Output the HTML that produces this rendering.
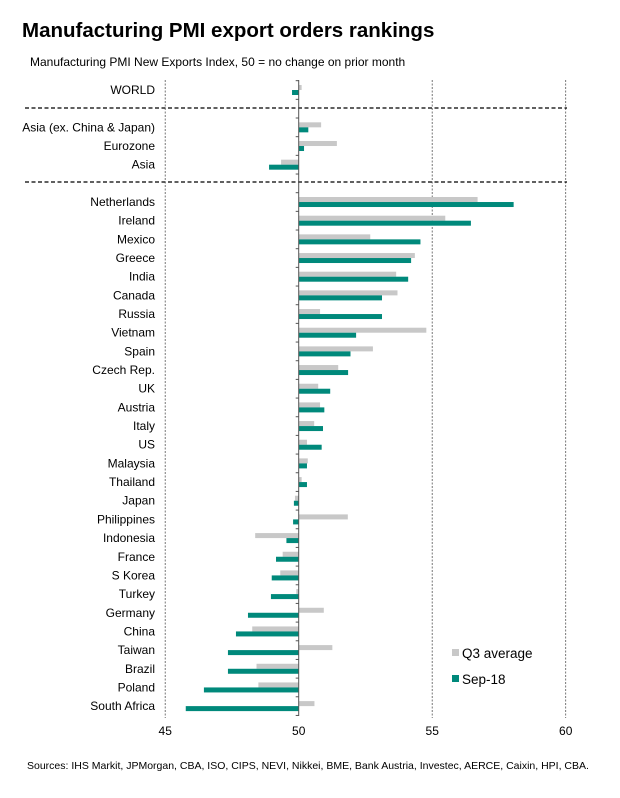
<!DOCTYPE html>
<html><head><meta charset="utf-8"><style>
body{margin:0;background:#fff;font-family:"Liberation Sans",Arial,sans-serif;}
svg text{font-family:"Liberation Sans",Arial,sans-serif;}
</style></head><body>
<svg id="chart" width="620" height="793" viewBox="0 0 620 793" xmlns="http://www.w3.org/2000/svg">
<text x="22" y="37" font-size="20.5" font-weight="bold" fill="#000">Manufacturing PMI export orders rankings</text>
<text x="30" y="66" font-size="12" fill="#000">Manufacturing PMI New Exports Index, 50 = no change on prior month</text>
<text x="27" y="769" font-size="10.5" fill="#000">Sources: IHS Markit, JPMorgan, CBA, ISO, CIPS, NEVI, Nikkei, BME, Bank Austria, Investec, AERCE, Caixin, HPI, CBA.</text>
<g id="plot"></g>
</svg>
<script>
const categories=["WORLD","","Asia (ex. China & Japan)","Eurozone","Asia","","Netherlands","Ireland","Mexico","Greece","India","Canada","Russia","Vietnam","Spain","Czech Rep.","UK","Austria","Italy","US","Malaysia","Thailand","Japan","Philippines","Indonesia","France","S Korea","Turkey","Germany","China","Taiwan","Brazil","Poland","South Africa"];
const q3Average=[50.11,null,50.84,51.43,49.34,null,56.7,55.49,52.68,54.35,53.65,53.7,50.8,54.78,52.78,51.48,50.73,50.8,50.58,50.31,50.34,50.11,49.86,51.84,48.37,49.4,49.31,49.91,50.94,48.26,51.26,48.42,48.49,50.59];
const sep18=[49.75,null,50.36,50.2,48.89,null,58.05,56.45,54.56,54.21,54.1,53.12,53.12,52.15,51.94,51.85,51.18,50.96,50.91,50.86,50.31,50.31,49.82,49.79,49.54,49.15,48.99,48.96,48.1,47.65,47.35,47.35,46.45,45.77];
const xTicks=[45,50,55,60];
const NS="http://www.w3.org/2000/svg";
const g=document.getElementById("plot");
const x=v=>298.7+(v-50)*26.7;
const yC=i=>90+i*18.67;
function mk(t,a){const e=document.createElementNS(NS,t);for(const k in a)e.setAttribute(k,a[k]);g.appendChild(e);return e;}
xTicks.forEach(t=>{
  if(t===50)return;
  const l=mk("line",{x1:x(t),x2:x(t),y1:80,y2:718,stroke:"#555","stroke-width":0.8,"stroke-dasharray":"2,1.5"});
  
  
});
xTicks.forEach(t=>{
  const tx=mk("text",{x:x(t),y:735,"font-size":12,"text-anchor":"middle",fill:"#000"});
  tx.textContent=t;
  
  
});
[108,182].forEach((yy,k)=>{
  const l=mk("line",{x1:25,x2:567,y1:yy,y2:yy,stroke:"#000","stroke-width":1.3,"stroke-dasharray":"4,2.5"});
  
  
});
categories.forEach((c,i)=>{
  const cy=yC(i);
  if(c){
    const tx=mk("text",{x:155,y:cy+4,"font-size":12,"text-anchor":"end",fill:"#000"});
    tx.textContent=c;
    
    
  }
  if(q3Average[i]!=null){
    const v=q3Average[i];
    const r=mk("rect",{x:Math.min(x(v),x(50)),y:cy-5,width:Math.abs(x(v)-x(50)),height:5,fill:"#c8c8c8"});
    
    
  }
  if(sep18[i]!=null){
    const v=sep18[i];
    const r=mk("rect",{x:Math.min(x(v),x(50)),y:cy,width:Math.abs(x(v)-x(50)),height:5,fill:"#00897b"});
    
    
  }
});
const ax=mk("line",{x1:x(50),x2:x(50),y1:80,y2:716,stroke:"#555","stroke-width":1});


for(let i=0;i<=categories.length;i++){
  const yy=yC(i)-9.33;
  const t=mk("line",{x1:x(50)-3,x2:x(50),y1:yy,y2:yy,stroke:"#555","stroke-width":1});
  
  
}
const l1=mk("rect",{x:452,y:649,width:7,height:7,fill:"#c8c8c8"});


const t1=mk("text",{x:462,y:658,"font-size":13.5,fill:"#000"});t1.textContent="Q3 average";


const l2=mk("rect",{x:452,y:675,width:7,height:7,fill:"#00897b"});


const t2=mk("text",{x:462,y:684,"font-size":13.5,fill:"#000"});t2.textContent="Sep-18";


</script>
</body></html>
